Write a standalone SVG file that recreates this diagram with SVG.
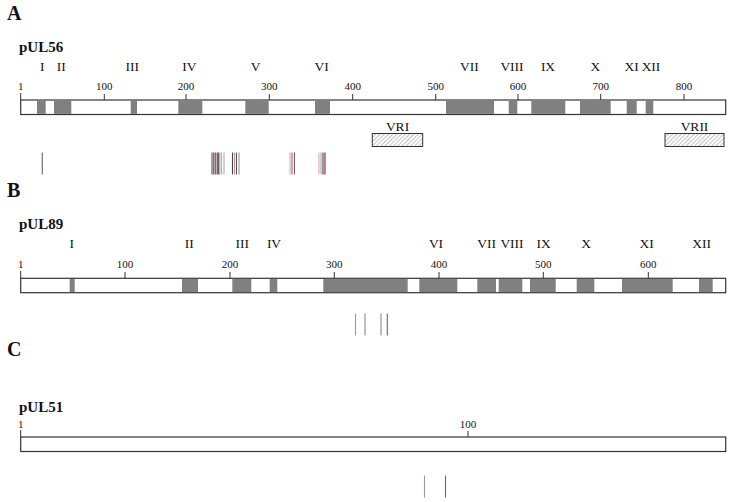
<svg xmlns="http://www.w3.org/2000/svg" width="730" height="502" viewBox="0 0 730 502">
<style>
.pl{font-family:"Liberation Serif","Times New Roman",serif;font-weight:bold;font-size:20px;fill:#111}
.pn{font-family:"Liberation Serif","Times New Roman",serif;font-weight:bold;font-size:15px;fill:#111}
.rn{font-family:"Liberation Serif","Times New Roman",serif;font-size:13.5px;fill:#111;text-anchor:middle}
.sc{font-family:"Liberation Serif","Times New Roman",serif;font-size:11px;fill:#111;text-anchor:middle}
.bar{fill:#fff;stroke:#333;stroke-width:1.2}
.dom{fill:#808080}
.tk{stroke:#333;stroke-width:1}
.vr{fill:url(#hatch);stroke:#333;stroke-width:1}
.m{stroke-width:1.1}
</style>
<defs>
<pattern id="hatch" width="3" height="3" patternUnits="userSpaceOnUse" patternTransform="rotate(45)">
<rect width="3" height="3" fill="#fff"/>
<line x1="0" y1="0" x2="0" y2="3" stroke="#888" stroke-width="1"/>
</pattern>
</defs>
<rect width="730" height="502" fill="#fff"/>

<!-- Panel A -->
<g id="panelA">
<text class="pl" x="7" y="20">A</text>
<text class="pn" x="19" y="52">pUL56</text>
<g id="A-numerals">
<text class="rn" x="42.3" y="71">I</text>
<text class="rn" x="61.3" y="71">II</text>
<text class="rn" x="132.3" y="71">III</text>
<text class="rn" x="189.3" y="71">IV</text>
<text class="rn" x="255.7" y="71">V</text>
<text class="rn" x="321.7" y="71">VI</text>
<text class="rn" x="469.3" y="71">VII</text>
<text class="rn" x="512" y="71">VIII</text>
<text class="rn" x="548" y="71">IX</text>
<text class="rn" x="595.3" y="71">X</text>
<text class="rn" x="631.7" y="71">XI</text>
<text class="rn" x="651" y="71">XII</text>
</g>
<g id="A-scale">
<text class="sc" x="20.7" y="90">1</text>
<text class="sc" x="104.3" y="90">100</text>
<text class="sc" x="186" y="90">200</text>
<text class="sc" x="269.3" y="90">300</text>
<text class="sc" x="352.7" y="90">400</text>
<text class="sc" x="435.7" y="90">500</text>
<text class="sc" x="518" y="90">600</text>
<text class="sc" x="600.7" y="90">700</text>
<text class="sc" x="684" y="90">800</text>
<path class="tk" d="M20.7 93V100M104.3 94V100M186 94V100M269.3 94V100M352.7 94V100M435.7 94V100M518 94V100M600.7 94V100M684 94V100"/>
</g>
<g id="A-bar">
<rect class="bar" x="20.7" y="100" width="705" height="14.5"/>
<rect class="dom" x="37" y="100.6" width="8.7" height="13.3"/>
<rect class="dom" x="54" y="100.6" width="17.3" height="13.3"/>
<rect class="dom" x="130.7" y="100.6" width="6.3" height="13.3"/>
<rect class="dom" x="178.3" y="100.6" width="24" height="13.3"/>
<rect class="dom" x="245.3" y="100.6" width="23.4" height="13.3"/>
<rect class="dom" x="315" y="100.6" width="15" height="13.3"/>
<rect class="dom" x="446" y="100.6" width="48" height="13.3"/>
<rect class="dom" x="508.7" y="100.6" width="8.6" height="13.3"/>
<rect class="dom" x="531.3" y="100.6" width="34" height="13.3"/>
<rect class="dom" x="580" y="100.6" width="30.7" height="13.3"/>
<rect class="dom" x="626.7" y="100.6" width="10" height="13.3"/>
<rect class="dom" x="645.7" y="100.6" width="7.6" height="13.3"/>
</g>
<g id="VRI">
<text class="rn" x="397.5" y="131">VRI</text>
<rect class="vr" x="372.3" y="133.5" width="50.4" height="13"/>
</g>
<g id="VRII">
<text class="rn" x="694.5" y="131">VRII</text>
<rect class="vr" x="665" y="133.5" width="59" height="13"/>
</g>
<g id="A-marks" class="m">
<line x1="42.3" y1="152.5" x2="42.3" y2="174.5" stroke="#666"/>
<line x1="212" y1="152.5" x2="212" y2="174.5" stroke="#555"/>
<line x1="213.6" y1="152.5" x2="213.6" y2="174.5" stroke="#c84555"/>
<line x1="215.2" y1="152.5" x2="215.2" y2="174.5" stroke="#444"/>
<line x1="217.2" y1="152.5" x2="217.2" y2="174.5" stroke="#7a1f2a"/>
<line x1="218.8" y1="152.5" x2="218.8" y2="174.5" stroke="#333"/>
<line x1="221.2" y1="152.5" x2="221.2" y2="174.5" stroke="#999"/>
<line x1="224" y1="152.5" x2="224" y2="174.5" stroke="#aaa"/>
<line x1="232.5" y1="152.5" x2="232.5" y2="174.5" stroke="#444"/>
<line x1="234.5" y1="152.5" x2="234.5" y2="174.5" stroke="#c89098"/>
<line x1="236.5" y1="152.5" x2="236.5" y2="174.5" stroke="#555"/>
<line x1="239" y1="152.5" x2="239" y2="174.5" stroke="#999"/>
<line x1="290" y1="152.5" x2="290" y2="174.5" stroke="#bbb"/>
<line x1="292" y1="152.5" x2="292" y2="174.5" stroke="#d84a58"/>
<line x1="294.5" y1="152.5" x2="294.5" y2="174.5" stroke="#666"/>
<line x1="319" y1="152.5" x2="319" y2="174.5" stroke="#eaa8b0"/>
<line x1="321" y1="152.5" x2="321" y2="174.5" stroke="#aaa"/>
<line x1="323" y1="152.5" x2="323" y2="174.5" stroke="#444"/>
<line x1="325" y1="152.5" x2="325" y2="174.5" stroke="#8b2030"/>
</g>
</g>

<!-- Panel B -->
<g id="panelB">
<text class="pl" x="7" y="197">B</text>
<text class="pn" x="19" y="228.5">pUL89</text>
<g id="B-numerals">
<text class="rn" x="71.7" y="247.5">I</text>
<text class="rn" x="189.3" y="247.5">II</text>
<text class="rn" x="242.3" y="247.5">III</text>
<text class="rn" x="274" y="247.5">IV</text>
<text class="rn" x="436" y="247.5">VI</text>
<text class="rn" x="486.7" y="247.5">VII</text>
<text class="rn" x="512" y="247.5">VIII</text>
<text class="rn" x="543.7" y="247.5">IX</text>
<text class="rn" x="586" y="247.5">X</text>
<text class="rn" x="646.7" y="247.5">XI</text>
<text class="rn" x="701.7" y="247.5">XII</text>
</g>
<g id="B-scale">
<text class="sc" x="20.7" y="267.5">1</text>
<text class="sc" x="125" y="267.5">100</text>
<text class="sc" x="230" y="267.5">200</text>
<text class="sc" x="334.3" y="267.5">300</text>
<text class="sc" x="439" y="267.5">400</text>
<text class="sc" x="543.3" y="267.5">500</text>
<text class="sc" x="648.3" y="267.5">600</text>
<path class="tk" d="M20.7 271V278.3M125 272V278.3M230 272V278.3M334.3 272V278.3M439 272V278.3M543.3 272V278.3M648.3 272V278.3"/>
</g>
<g id="B-bar">
<rect class="bar" x="20.7" y="278.3" width="705" height="14.4"/>
<rect class="dom" x="69.7" y="278.9" width="5" height="13.2"/>
<rect class="dom" x="182" y="278.9" width="16" height="13.2"/>
<rect class="dom" x="232.3" y="278.9" width="19" height="13.2"/>
<rect class="dom" x="269.7" y="278.9" width="7.6" height="13.2"/>
<rect class="dom" x="323.3" y="278.9" width="84.4" height="13.2"/>
<rect class="dom" x="419.3" y="278.9" width="38" height="13.2"/>
<rect class="dom" x="477.3" y="278.9" width="18.7" height="13.2"/>
<rect class="dom" x="498.7" y="278.9" width="23.6" height="13.2"/>
<rect class="dom" x="530" y="278.9" width="25.7" height="13.2"/>
<rect class="dom" x="576.7" y="278.9" width="17.6" height="13.2"/>
<rect class="dom" x="622" y="278.9" width="50.7" height="13.2"/>
<rect class="dom" x="699" y="278.9" width="13.7" height="13.2"/>
</g>
<g id="B-marks" class="m">
<line x1="355.5" y1="313.5" x2="355.5" y2="335.5" stroke="#999"/>
<line x1="365" y1="313.5" x2="365" y2="335.5" stroke="#888"/>
<line x1="381" y1="313.5" x2="381" y2="335.5" stroke="#888"/>
<line x1="387.3" y1="313.5" x2="387.3" y2="335.5" stroke="#666"/>
</g>
</g>

<!-- Panel C -->
<g id="panelC">
<text class="pl" x="7" y="356">C</text>
<text class="pn" x="19" y="412">pUL51</text>
<g id="C-scale">
<text class="sc" x="20.7" y="428">1</text>
<text class="sc" x="468" y="428">100</text>
<path class="tk" d="M20.7 430V437M468 431V437"/>
</g>
<g id="C-bar">
<rect class="bar" x="20.7" y="437" width="705" height="14.5"/>
</g>
<g id="C-marks" class="m">
<line x1="424.5" y1="475.5" x2="424.5" y2="497.5" stroke="#999"/>
<line x1="445.5" y1="475.5" x2="445.5" y2="497.5" stroke="#e03040"/>
</g>
</g>
</svg>
